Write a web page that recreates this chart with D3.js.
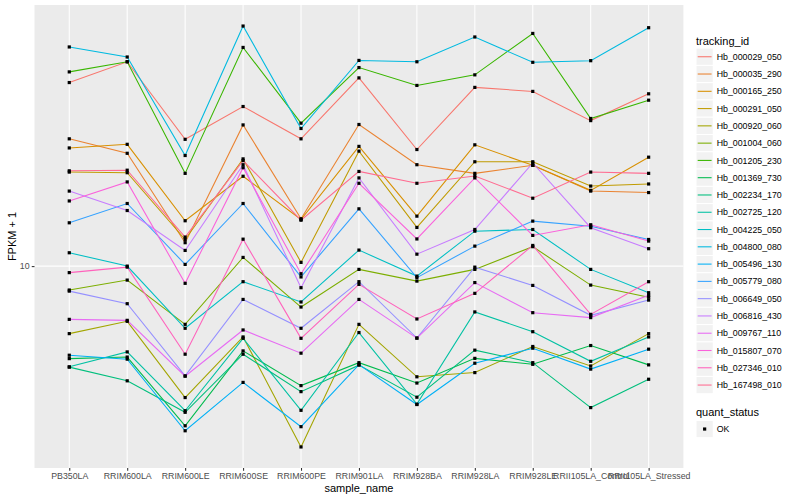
<!DOCTYPE html>
<html>
<head>
<meta charset="utf-8">
<script src="https://cdn.jsdelivr.net/npm/d3@7"></script>
<style>
body { margin: 0; background: #fff; }
svg { display: block; font-family: "Liberation Sans", Arial, Helvetica, sans-serif; }
</style>
</head>
<body>
<div id="chart"></div>
<script>
// samples on the x axis
var samples = ["PB350LA", "RRIM600LA", "RRIM600LE", "RRIM600SE", "RRIM600PE", "RRIM901LA",
  "RRIM928BA", "RRIM928LA", "RRIM928LE", "RRII105LA_Control", "RRII105LA_Stressed"];

var trackingIds = ["Hb_000029_050", "Hb_000035_290", "Hb_000165_250", "Hb_000291_050", "Hb_000920_060",
  "Hb_001004_060", "Hb_001205_230", "Hb_001369_730", "Hb_002234_170", "Hb_002725_120",
  "Hb_004225_050", "Hb_004800_080", "Hb_005496_130", "Hb_005779_080", "Hb_006649_050",
  "Hb_006816_430", "Hb_009767_110", "Hb_015807_070", "Hb_027346_010", "Hb_167498_010"];

// FPKM + 1, one array per gene, in sample order
var hb000029_050 = [41.0, 48.1, 26.5, 34.1, 26.6, 42.5, 24.5, 39.5, 38.3, 30.6, 37.6];
var hb000035_290 = [26.6, 23.8, 11.97, 29.6, 14.39, 29.7, 21.8, 20.4, 21.7, 17.8, 17.6];
var hb000165_250 = [24.8, 25.5, 14.17, 19.95, 14.31, 25.1, 14.68, 25.4, 21.7, 17.9, 23.1];
var hb000291_050 = [20.6, 20.5, 12.27, 22.8, 10.29, 24.2, 13.46, 22.3, 22.3, 18.5, 18.8];
var hb000920_060 = [5.95, 6.54, 3.64, 5.80, 2.49, 6.39, 4.27, 4.41, 5.39, 4.64, 5.95];
var hb001004_060 = [8.32, 8.98, 6.39, 10.69, 7.30, 9.75, 8.91, 9.75, 11.61, 8.64, 7.87];
var hb001205_230 = [44.5, 48.1, 20.4, 53.7, 30.0, 46.0, 40.1, 43.5, 59.8, 31.1, 35.8];
var hb001369_730 = [4.91, 4.97, 2.93, 5.21, 3.99, 4.76, 4.07, 4.92, 4.70, 5.43, 4.68];
var hb002234_170 = [4.60, 4.14, 3.25, 5.08, 3.81, 4.67, 3.65, 5.24, 4.76, 3.37, 4.19];
var hb002725_120 = [4.61, 5.17, 3.29, 5.74, 3.30, 6.00, 3.46, 7.03, 6.04, 4.81, 5.80];
var hb004225_050 = [11.08, 10.00, 6.20, 8.87, 7.59, 11.31, 9.26, 13.08, 13.25, 9.75, 8.15];
var hb004800_080 = [53.9, 49.9, 23.4, 63.3, 28.8, 48.6, 48.1, 58.2, 47.9, 48.5, 62.5];
var hb005496_130 = [5.04, 4.89, 2.82, 4.09, 2.91, 4.69, 3.45, 4.74, 5.32, 4.53, 5.28];
var hb005779_080 = [13.95, 16.18, 10.13, 16.18, 9.20, 15.53, 9.15, 11.66, 14.13, 13.59, 12.27];
var hb006649_050 = [8.25, 7.49, 4.30, 7.74, 6.20, 8.87, 5.75, 9.92, 8.62, 6.85, 7.70];
var hb006816_430 = [17.8, 15.33, 11.28, 21.8, 8.47, 19.7, 10.96, 13.25, 22.1, 13.43, 11.43];
var hb009767_110 = [6.64, 6.59, 4.29, 6.12, 5.12, 7.74, 5.75, 8.81, 6.99, 6.73, 7.99];
var hb015807_070 = [16.5, 19.1, 8.76, 21.3, 9.43, 18.9, 12.32, 19.7, 12.66, 13.74, 12.12];
var hb027346_010 = [9.51, 9.92, 5.08, 12.30, 5.74, 8.69, 6.66, 8.11, 11.72, 6.90, 8.87];
var hb167498_010 = [20.8, 20.9, 12.50, 22.5, 14.23, 20.7, 18.9, 20.0, 16.85, 20.6, 20.4];

var yTicks = [10];
var quantStatus = ["OK"];

var allValues = [hb000029_050, hb000035_290, hb000165_250, hb000291_050, hb000920_060,
  hb001004_060, hb001205_230, hb001369_730, hb002234_170, hb002725_120,
  hb004225_050, hb004800_080, hb005496_130, hb005779_080, hb006649_050,
  hb006816_430, hb009767_110, hb015807_070, hb027346_010, hb167498_010];

// ggplot default hue palette for 20 levels
var colors = ["#F8766D", "#EA8331", "#D89000", "#C09B00", "#A3A500", "#7CAE00", "#39B600",
  "#00BB4E", "#00BF7D", "#00C1A3", "#00BFC4", "#00BAE0", "#00B0F6", "#35A2FF", "#9590FF",
  "#C77CFF", "#E76BF3", "#FA62DB", "#FF62BC", "#FF6C91"];

var series = trackingIds.map(function(id, i) {
  return {id: id, values: allValues[i].map(function(v, j) { return {s: samples[j], v: v}; })};
});

var W = 800, H = 500;
var panel = {left: 34.5, right: 683.4, top: 5, bottom: 468};

var svg = d3.select("#chart").append("svg")
  .attr("width", W).attr("height", H);

var x = d3.scalePoint()
  .domain(samples)
  .range([panel.left, panel.right])
  .padding(0.6);

var flat = d3.merge(allValues);
var lo = Math.log10(d3.min(flat)), hi = Math.log10(d3.max(flat));
var pad = (hi - lo) * 0.05;
var y = d3.scaleLog()
  .domain([Math.pow(10, lo - pad), Math.pow(10, hi + pad)])
  .range([panel.bottom, panel.top]);

var color = d3.scaleOrdinal().domain(trackingIds).range(colors);

// panel background and grid
svg.append("rect")
  .attr("x", panel.left).attr("y", panel.top)
  .attr("width", panel.right - panel.left).attr("height", panel.bottom - panel.top)
  .attr("fill", "#EBEBEB");

svg.append("g").selectAll("line").data(yTicks).enter().append("line")
  .attr("x1", panel.left).attr("x2", panel.right)
  .attr("y1", function(d) { return y(d); }).attr("y2", function(d) { return y(d); })
  .attr("stroke", "#fff").attr("stroke-width", 1.07);

svg.append("g").selectAll("line").data(samples).enter().append("line")
  .attr("x1", function(d) { return x(d); }).attr("x2", function(d) { return x(d); })
  .attr("y1", panel.top).attr("y2", panel.bottom)
  .attr("stroke", "#fff").attr("stroke-width", 1.07);

// lines
var line = d3.line()
  .x(function(d) { return x(d.s); })
  .y(function(d) { return y(d.v); });

svg.append("g").selectAll("path").data(series).enter().append("path")
  .attr("d", function(d) { return line(d.values); })
  .attr("fill", "none")
  .attr("stroke", function(d) { return color(d.id); })
  .attr("stroke-width", 1.07);

// points
var pts = d3.merge(series.map(function(d) { return d.values; }));
svg.append("g").selectAll("rect").data(pts).enter().append("rect")
  .attr("x", function(d) { return x(d.s) - 1.6; })
  .attr("y", function(d) { return y(d.v) - 1.6; })
  .attr("width", 3.2).attr("height", 3.2)
  .attr("fill", "#000");

// axes
var xAxis = svg.append("g")
  .attr("transform", "translate(0," + panel.bottom + ")")
  .call(d3.axisBottom(x).tickSize(2.75).tickPadding(2.5));
xAxis.select(".domain").remove();
xAxis.selectAll(".tick line").attr("stroke", "#333333").attr("stroke-width", 1.07);
xAxis.selectAll(".tick text").attr("fill", "#4D4D4D")
  .style("font-size", "8.8px").style("font-family", "Liberation Sans, Arial, sans-serif");

var yAxis = svg.append("g")
  .attr("transform", "translate(" + panel.left + ",0)")
  .call(d3.axisLeft(y).tickValues(yTicks).tickFormat(d3.format("d")).tickSize(2.75).tickPadding(2.2));
yAxis.select(".domain").remove();
yAxis.selectAll(".tick line").attr("stroke", "#333333").attr("stroke-width", 1.07);
yAxis.selectAll(".tick text").attr("fill", "#4D4D4D")
  .style("font-size", "8.8px").style("font-family", "Liberation Sans, Arial, sans-serif");

svg.append("text")
  .attr("x", (panel.left + panel.right) / 2).attr("y", 492)
  .attr("text-anchor", "middle").style("font-size", "11px")
  .text("sample_name");

svg.append("text")
  .attr("transform", "translate(16," + ((panel.top + panel.bottom) / 2) + ") rotate(-90)")
  .attr("text-anchor", "middle").style("font-size", "11px")
  .text("FPKM + 1");

// legend: tracking_id
var keySize = 17.28, legX = 696, legY = 48.1;
svg.append("text").attr("x", legX).attr("y", 44.5)
  .style("font-size", "11px").text("tracking_id");

var keys = svg.append("g").selectAll("g").data(trackingIds).enter().append("g")
  .attr("transform", function(d, i) { return "translate(" + legX + "," + (legY + i * keySize) + ")"; });
keys.append("rect").attr("width", keySize).attr("height", keySize)
  .attr("fill", "#F2F2F2").attr("stroke", "#fff").attr("stroke-width", 1);
keys.append("line")
  .attr("x1", 1.7).attr("x2", keySize - 1.7)
  .attr("y1", keySize / 2).attr("y2", keySize / 2)
  .attr("stroke", function(d) { return color(d); }).attr("stroke-width", 1.07);
keys.append("text").attr("x", keySize + 3.4).attr("y", keySize / 2 + 3.1)
  .style("font-size", "8.8px").text(function(d) { return d; });

// legend: quant_status
svg.append("text").attr("x", legX).attr("y", 416.2)
  .style("font-size", "11px").text("quant_status");

var qkeys = svg.append("g").selectAll("g").data(quantStatus).enter().append("g")
  .attr("transform", function(d, i) { return "translate(" + legX + "," + (420.4 + i * keySize) + ")"; });
qkeys.append("rect").attr("width", keySize).attr("height", keySize)
  .attr("fill", "#F2F2F2").attr("stroke", "#fff").attr("stroke-width", 1);
qkeys.append("rect")
  .attr("x", keySize / 2 - 1.6).attr("y", keySize / 2 - 1.6)
  .attr("width", 3.2).attr("height", 3.2).attr("fill", "#000");
qkeys.append("text").attr("x", keySize + 3.4).attr("y", keySize / 2 + 3.1)
  .style("font-size", "8.8px").text(function(d) { return d; });
</script>
</body>
</html>
